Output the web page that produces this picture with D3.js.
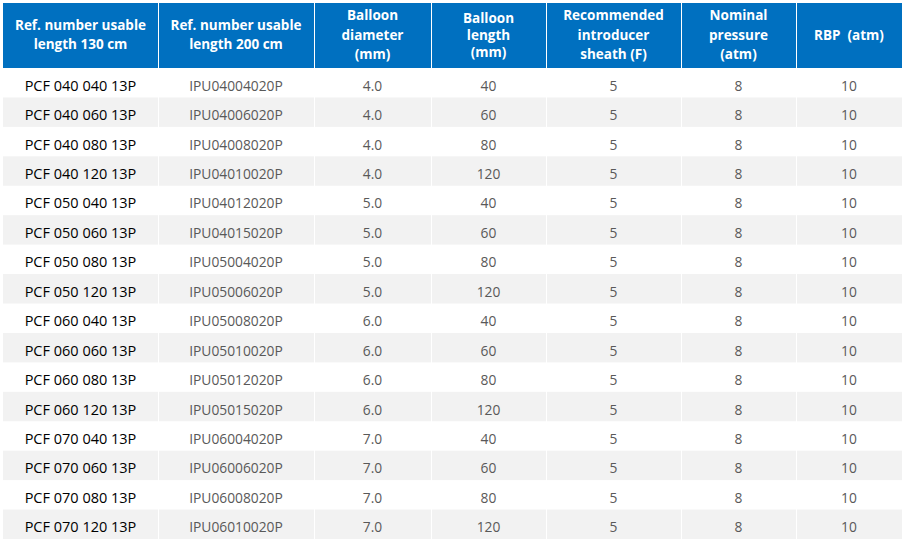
<!DOCTYPE html>
<html>
<head>
<meta charset="utf-8">
<script src="https://cdn.jsdelivr.net/npm/d3@7"></script>
<style>
  body { margin: 0; background: #fff; }
  svg { display: block; }
  text { white-space: pre; }
</style>
</head>
<body>
<div id="chart"></div>
<script>
const headers = [
  ["Ref. number usable", "length 130 cm"],
  ["Ref. number usable", "length 200 cm"],
  ["Balloon", "diameter", "(mm)"],
  ["Balloon", "length", "(mm)"],
  ["Recommended", "introducer", "sheath (F)"],
  ["Nominal", "pressure", "(atm)"],
  ["RBP  (atm)"]
];

const refs130 = [
  "PCF 040 040 13P", "PCF 040 060 13P", "PCF 040 080 13P", "PCF 040 120 13P",
  "PCF 050 040 13P", "PCF 050 060 13P", "PCF 050 080 13P", "PCF 050 120 13P",
  "PCF 060 040 13P", "PCF 060 060 13P", "PCF 060 080 13P", "PCF 060 120 13P",
  "PCF 070 040 13P", "PCF 070 060 13P", "PCF 070 080 13P", "PCF 070 120 13P"
];
const refs200 = [
  "IPU04004020P", "IPU04006020P", "IPU04008020P", "IPU04010020P",
  "IPU04012020P", "IPU04015020P", "IPU05004020P", "IPU05006020P",
  "IPU05008020P", "IPU05010020P", "IPU05012020P", "IPU05015020P",
  "IPU06004020P", "IPU06006020P", "IPU06008020P", "IPU06010020P"
];
const diameters = ["4.0","4.0","4.0","4.0","5.0","5.0","5.0","5.0","6.0","6.0","6.0","6.0","7.0","7.0","7.0","7.0"];
const lengths = [40, 60, 80, 120, 40, 60, 80, 120, 40, 60, 80, 120, 40, 60, 80, 120];
const sheaths = [5, 5, 5, 5, 5, 5, 5, 5, 5, 5, 5, 5, 5, 5, 5, 5];
const nominal = [8, 8, 8, 8, 8, 8, 8, 8, 8, 8, 8, 8, 8, 8, 8, 8];
const rbp = [10, 10, 10, 10, 10, 10, 10, 10, 10, 10, 10, 10, 10, 10, 10, 10];

const columns = [refs130, refs200, diameters, lengths, sheaths, nominal, rbp];
const rows = d3.range(refs130.length);

// layout
const W = 904, H = 539;
const colEdges = [3, 158, 314, 431, 546, 681, 796, 902];
const headTop = 3, headBottom = 68;
const blue = "#0070c0";
const font = "'Open Sans', sans-serif";

const svg = d3.select("#chart").append("svg")
  .attr("width", W).attr("height", H);

const y = d3.scaleBand()
  .domain(rows)
  .range([headBottom, H]);

const colX = i => colEdges[i];
const colW = i => colEdges[i + 1] - colEdges[i];
const colC = i => colEdges[i] + colW(i) / 2;

// header cells
const head = svg.append("g").selectAll("g")
  .data(headers)
  .enter().append("g");

head.append("rect")
  .attr("x", (d, i) => colX(i) + (i ? 1 : 0))
  .attr("y", headTop)
  .attr("width", (d, i) => colW(i) - (i ? 1 : 0))
  .attr("height", headBottom - headTop)
  .attr("fill", blue);

const lineH = 19.3;
head.append("text")
  .attr("text-anchor", "middle")
  .attr("fill", "#fff")
  .attr("font-family", font)
  .attr("font-size", "13.5px")
  .attr("font-weight", "700")
  .selectAll("tspan")
  .data((d, i) => d.map((t, k) => ({ t, k, n: d.length, i })))
  .enter().append("tspan")
  .attr("x", d => colC(d.i))
  .attr("y", d => (headTop + headBottom) / 2 + (d.k - (d.n - 1) / 2) * (d.i === 3 ? 17 : lineH) + 4)
  .text(d => d.t);

// body rows
const body = svg.append("g").selectAll("g")
  .data(rows)
  .enter().append("g");

body.filter(r => r % 2 === 1).selectAll("rect")
  .data(r => headers.map((h, i) => ({ r, i })))
  .enter().append("rect")
  .attr("x", d => colX(d.i) + (d.i ? 1 : 0))
  .attr("y", d => y(d.r))
  .attr("width", d => colW(d.i) - (d.i ? 1 : 0))
  .attr("height", y.bandwidth())
  .attr("fill", "#f2f2f2");

body.selectAll("text")
  .data(r => columns.map((c, i) => ({ v: c[r], r, i })))
  .enter().append("text")
  .attr("x", d => colC(d.i))
  .attr("y", d => y(d.r) + y.bandwidth() / 2 + 8)
  .attr("text-anchor", "middle")
  .attr("font-family", font)
  .attr("font-size", d => d.i === 0 ? "14.5px" : "13.8px")
  .attr("fill", d => d.i === 0 ? "#000" : "#595959")
  .text(d => d.v);
</script>
</body>
</html>
